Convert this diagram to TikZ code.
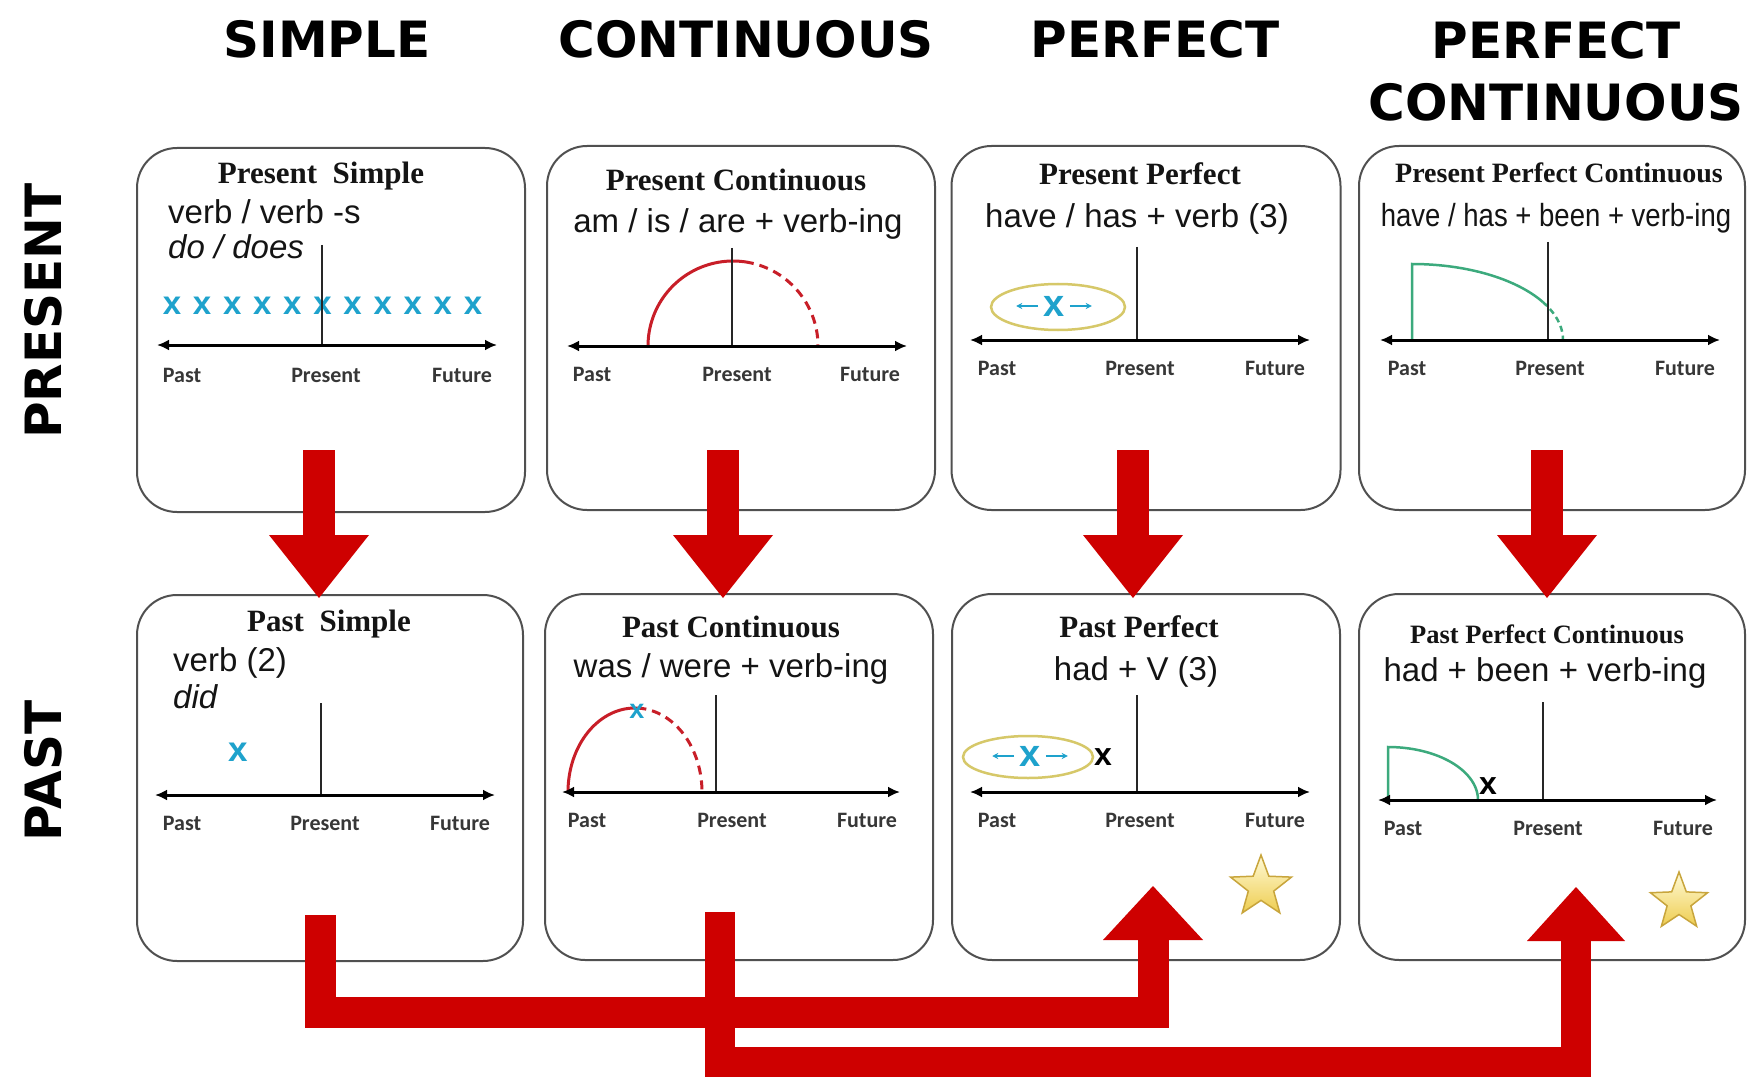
\documentclass[tikz,border=0pt]{standalone}
\usepackage{fontspec}
\setmainfont{Liberation Sans}
\newfontfamily\ttlfont{Liberation Serif}
\newfontfamily\hdrfont{DejaVu Sans}
\newfontfamily\lblfont{Carlito}
\newfontfamily\narrowfont[FakeStretch=0.86]{Liberation Sans}
\usetikzlibrary{arrows.meta,shapes.geometric,calc}
\newcommand\fsz[1]{\fontsize{#1}{#1}\selectfont}
\definecolor{boxgray}{RGB}{80,80,80}
\definecolor{txtblack}{RGB}{20,20,20}
\definecolor{lblgray}{RGB}{55,55,55}
\definecolor{xblue}{RGB}{30,162,204}
\definecolor{ovalc}{RGB}{214,200,105}
\definecolor{arcred}{RGB}{200,30,40}
\definecolor{grn}{RGB}{60,170,125}
\definecolor{bigred}{RGB}{206,0,0}
\definecolor{stard}{RGB}{200,165,60}
\definecolor{startop}{RGB}{255,250,215}
\definecolor{starbot}{RGB}{238,205,80}
\tikzset{
  box/.style={draw=boxgray, line width=2pt, rounded corners=40pt, fill=white, inner sep=0pt},
  hdr/.style={font=\hdrfont\bfseries\fsz{50}, anchor=base, inner sep=0pt, text=black},
  rowlbl/.style={font=\hdrfont\bfseries\fsz{50}, rotate=90, inner sep=0pt, text=black},
  ttl/.style={font=\ttlfont\bfseries\fsz{31}, anchor=base, inner sep=0pt, text=txtblack},
  subtxt/.style={font=\fsz{33}, anchor=base, inner sep=0pt, text=txtblack},
  subw/.style={subtxt, anchor=base west},
  timelbl/.style={font=\lblfont\bfseries\fsz{22}, anchor=base, inner sep=0pt, text=lblgray},
  timeaxis/.style={line width=3pt, draw=black, {Latex[length=12pt,width=11pt]}-{Latex[length=12pt,width=11pt]}},
  vline/.style={line width=2.2pt, draw=black!85},
  bluex/.style={font=\bfseries\fsz{33}, text=xblue, inner sep=0pt},
  blackx/.style={font=\bfseries\fsz{32}, text=black, inner sep=0pt},
  oval/.style={ellipse, draw=ovalc, line width=2.5pt, inner sep=0pt, fill=white},
  smallarr/.style={draw=xblue, line width=1.4pt, -{Stealth[length=6pt,width=6pt]}},
  redarc/.style={draw=arcred, line width=3pt},
  greenln/.style={draw=grn, line width=2.5pt},
  goldstar/.style={star, star points=5, star point ratio=2.4, draw=stard, line width=1.5pt,
    top color=startop, bottom color=starbot, minimum size=64pt, inner sep=0pt},
  redbar/.style={draw=bigred, line join=miter, line cap=butt},
}
\begin{document}
\begin{tikzpicture}[x=1pt,y=-1pt]
\useasboundingbox (0,0) rectangle (1749,1078);
\fill[white] (0,0) rectangle (1749,1078);

% headers
\node[hdr] (hS) at (327,58) {SIMPLE};
\node[hdr] (hC) at (746,58) {CONTINUOUS};
\node[hdr] (hP) at (1155,58) {PERFECT};
\node[hdr, anchor=north, align=center, font=\hdrfont\bfseries\fontsize{50}{62}\selectfont] (hPC) at (1556,21) {PERFECT\\CONTINUOUS};
\node[rowlbl] (rPres) at (43,311) {PRESENT};
\node[rowlbl] (rPast) at (43,771) {PAST};

% boxes
\node[box, minimum width=388pt, minimum height=364pt] (ps) at (331,330) {};
\node[box, minimum width=388pt, minimum height=364pt] (pc) at (741,328) {};
\node[box, minimum width=389pt, minimum height=364pt] (pp) at (1146,328) {};
\node[box, minimum width=386pt, minimum height=364pt] (ppc) at (1552,328) {};
\node[box, minimum width=386pt, minimum height=366pt] (pas) at (330,778) {};
\node[box, minimum width=388pt, minimum height=366pt] (pac) at (739,777) {};
\node[box, minimum width=388pt, minimum height=366pt] (pap) at (1146,777) {};
\node[box, minimum width=386pt, minimum height=366pt] (papc) at (1552,777) {};

% ---- Present Simple
\node[ttl] (psT) at (321,184) {Present\ \ Simple};
\node[subw] (psF1) at (168,224) {verb / verb -s};
\node[subw, font=\itshape\fsz{33}] (psF2) at (168,259) {do / does};
\foreach \i in {0,...,10} \node[bluex] (psx\i) at ({172+30.1*\i},306) {x};
\draw[vline] (322,245) -- (322,345);
\draw[timeaxis] (157,345) -- (497,345);
\node[timelbl] (psL1) at (182,382) {Past};
\node[timelbl] (psL2) at (326,382) {Present};
\node[timelbl] (psL3) at (462,382) {Future};

% ---- Present Continuous
\node[ttl] (pcT) at (736,191) {Present Continuous};
\node[subtxt] (pcF) at (738,233) {am / is / are + verb-ing};
\draw[redarc] plot[domain=180:82, samples=40] ({733+85*cos(\x)},{346-85*sin(\x)});
\draw[redarc, dash pattern=on 9pt off 6pt] plot[domain=82:0, samples=40] ({733+85*cos(\x)},{346-85*sin(\x)});
\draw[vline] (732,248) -- (732,346);
\draw[timeaxis] (567,346) -- (907,346);
\node[timelbl] (pcL1) at (592,381) {Past};
\node[timelbl] (pcL2) at (737,381) {Present};
\node[timelbl] (pcL3) at (870,381) {Future};

% ---- Present Perfect
\node[ttl] (ppT) at (1140,185) {Present Perfect};
\node[subtxt] (ppF) at (1137,228) {have / has + verb (3)};
\draw[vline] (1137,247) -- (1137,340);
\draw[timeaxis] (970,340) -- (1310,340);
\node[oval, minimum width=134pt, minimum height=46pt] (ppO) at (1058,307) {};
\node[bluex, font=\bfseries\fsz{38}] (ppX) at (1054,306) {x};
\draw[smallarr] ([xshift=-5pt]ppX.west) -- ++(-22,0);
\draw[smallarr] ([xshift=5pt]ppX.east) -- ++(22,0);
\node[timelbl] (ppL1) at (997,375) {Past};
\node[timelbl] (ppL2) at (1140,375) {Present};
\node[timelbl] (ppL3) at (1275,375) {Future};

% ---- Present Perfect Continuous
\node[ttl, font=\ttlfont\bfseries\fsz{28}] (ppcT) at (1559,183) {Present Perfect Continuous};
\node[subtxt, font=\narrowfont\fsz{32}] (ppcF) at (1556,227) {have / has + been + verb-ing};
\draw[greenln] (1412,340) -- (1412,264) -- plot[domain=90:30, samples=40] ({1412+151*cos(\x)},{340-76*sin(\x)});
\draw[greenln, dash pattern=on 6pt off 4pt] plot[domain=30:0, samples=20] ({1412+151*cos(\x)},{340-76*sin(\x)});
\draw[vline] (1548,242) -- (1548,340);
\draw[timeaxis] (1380,340) -- (1720,340);
\node[timelbl] (ppcL1) at (1407,375) {Past};
\node[timelbl] (ppcL2) at (1550,375) {Present};
\node[timelbl] (ppcL3) at (1685,375) {Future};

% ---- Past Simple
\node[ttl] (pasT) at (329,631) {Past\ \ Simple};
\node[subw] (pasF1) at (173,671) {verb (2)};
\node[subw, font=\itshape\fsz{33}] (pasF2) at (173,708) {did};
\node[bluex, font=\bfseries\fsz{35}] (pasX) at (238,752) {x};
\draw[vline] (321,703) -- (321,795);
\draw[timeaxis] (155,795) -- (495,795);
\node[timelbl] (pasL1) at (182,830) {Past};
\node[timelbl] (pasL2) at (325,830) {Present};
\node[timelbl] (pasL3) at (460,830) {Future};

% ---- Past Continuous
\node[ttl] (pacT) at (731,637) {Past Continuous};
\node[subtxt] (pacF) at (731,677) {was / were + verb-ing};
\draw[redarc] plot[domain=180:88, samples=40] ({635+67*cos(\x)},{792-84*sin(\x)});
\draw[redarc, dash pattern=on 9pt off 6pt] plot[domain=88:0, samples=40] ({635+67*cos(\x)},{792-84*sin(\x)});
\node[bluex, font=\bfseries\fsz{27}] (pacX) at (637,711) {x};
\draw[vline] (716,695) -- (716,792);
\draw[timeaxis] (562,792) -- (900,792);
\node[timelbl] (pacL1) at (587,827) {Past};
\node[timelbl] (pacL2) at (732,827) {Present};
\node[timelbl] (pacL3) at (867,827) {Future};

% ---- Past Perfect
\node[ttl] (papT) at (1139,637) {Past Perfect};
\node[subtxt] (papF) at (1136,680) {had + V (3)};
\draw[vline] (1137,695) -- (1137,792);
\draw[timeaxis] (970,792) -- (1310,792);
\node[oval, minimum width=130pt, minimum height=42pt] (papO) at (1028,757) {};
\node[bluex, font=\bfseries\fsz{38}] (papX) at (1030,756) {x};
\draw[smallarr] ([xshift=-5pt]papX.west) -- ++(-22,0);
\draw[smallarr] ([xshift=5pt]papX.east) -- ++(22,0);
\node[blackx] (papK) at (1103,757) {x};
\node[timelbl] (papL1) at (997,827) {Past};
\node[timelbl] (papL2) at (1140,827) {Present};
\node[timelbl] (papL3) at (1275,827) {Future};
\node[goldstar] (papS) at (1261,887) {};

% ---- Past Perfect Continuous
\node[ttl, font=\ttlfont\bfseries\fsz{26.5}] (papcT) at (1547,643) {Past Perfect Continuous};
\node[subtxt] (papcF) at (1545,681) {had + been + verb-ing};
\draw[greenln] (1388,800) -- (1388,747) -- plot[domain=90:0, samples=40] ({1388+90*cos(\x)},{800-53*sin(\x)});
\draw[vline] (1543,702) -- (1543,800);
\draw[timeaxis] (1378,800) -- (1717,800);
\node[blackx] (papcK) at (1488,786) {x};
\node[timelbl] (papcL1) at (1403,835) {Past};
\node[timelbl] (papcL2) at (1548,835) {Present};
\node[timelbl] (papcL3) at (1683,835) {Future};
\node[goldstar, minimum size=60pt] (papcS) at (1679,902) {};

% ---- red down arrows (present -> past)
\foreach \cx/\n in {319/1,723/2,1133/3,1547/4}{
  \coordinate (dn\n a) at (\cx,450);
  \coordinate (dn\n b) at (\cx,598);
  \draw[redbar, line width=32pt] (dn\n a) -- ($(dn\n b)+(0,-60)$);
  \fill[bigred] ($(dn\n b)+(-50,-63)$) -- ($(dn\n b)+(50,-63)$) -- (dn\n b) -- cycle;
}

% ---- bottom connectors
\coordinate (ca1) at (320,915);
\coordinate (ct1) at (1153,886);
\draw[redbar, line width=31pt] (ca1) |- ($(ct1)+(0,126)$) -- ($(ct1)+(0,51)$);
\fill[bigred] ($(ct1)+(-50,54)$) -- ($(ct1)+(50,54)$) -- (ct1) -- cycle;

\coordinate (ca2) at (720,912);
\coordinate (ct2) at (1576,887);
\draw[redbar, line width=30pt] (ca2) |- ($(ct2)+(0,175)$) -- ($(ct2)+(0,51)$);
\fill[bigred] ($(ct2)+(-49,54)$) -- ($(ct2)+(49,54)$) -- (ct2) -- cycle;
\end{tikzpicture}
\end{document}
